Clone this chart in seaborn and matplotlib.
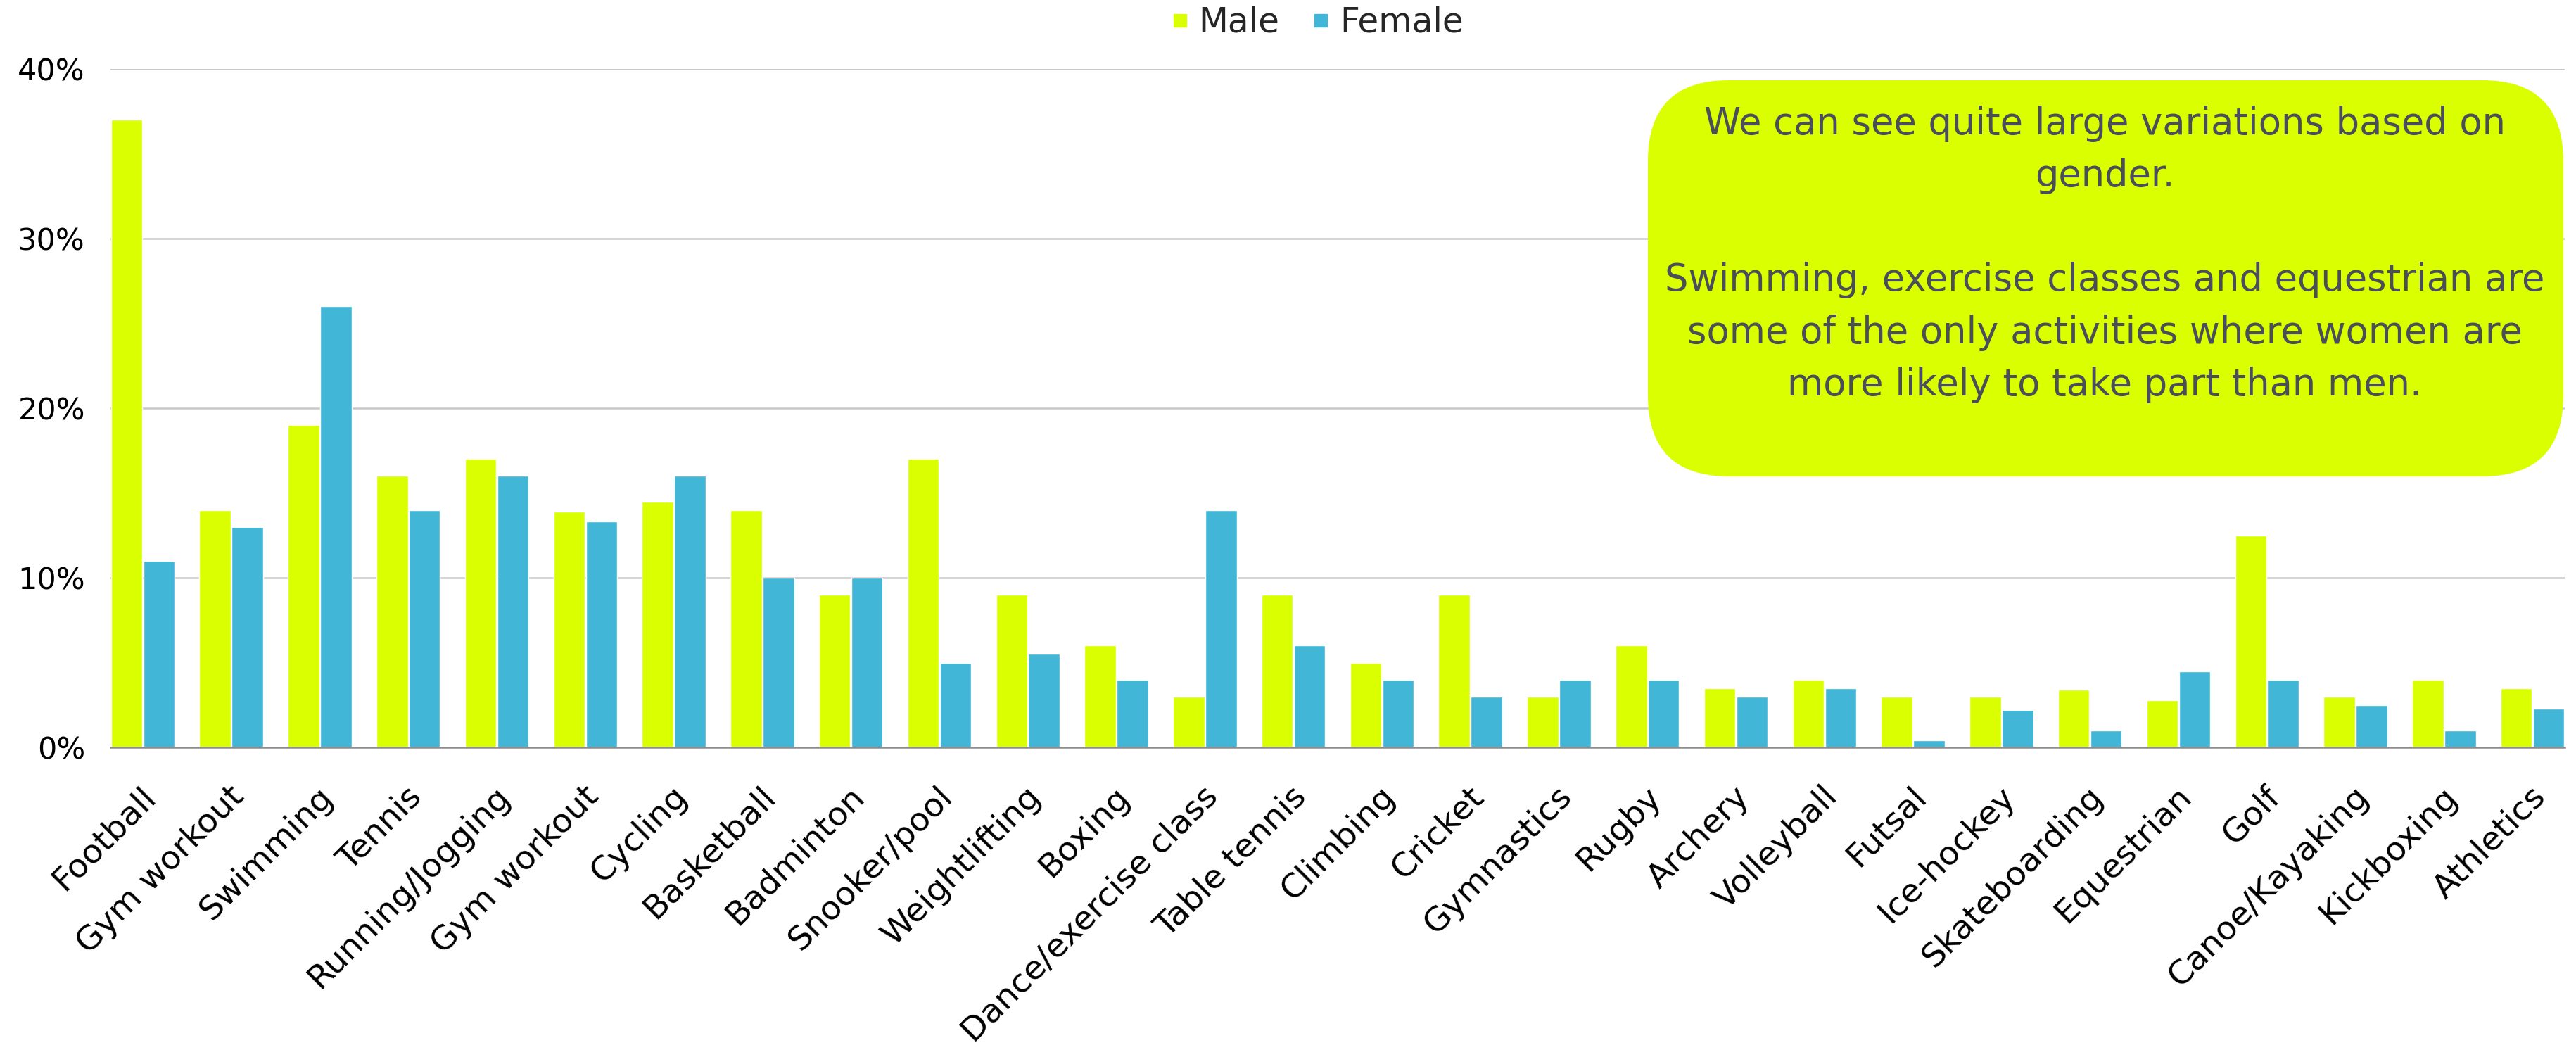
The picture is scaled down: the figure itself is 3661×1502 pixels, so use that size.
import matplotlib
matplotlib.use("Agg")
import matplotlib.pyplot as plt
import matplotlib.transforms as mtransforms
from matplotlib.patches import FancyBboxPatch
from matplotlib.lines import Line2D
from matplotlib.ticker import FuncFormatter
import seaborn as sns
import pandas as pd

# Participation by activity and gender (%)
activities = [
    "Football", "Gym workout", "Swimming", "Tennis", "Running/Jogging",
    "Gym workout", "Cycling", "Basketball", "Badminton", "Snooker/pool",
    "Weightlifting", "Boxing", "Dance/exercise class", "Table tennis",
    "Climbing", "Cricket", "Gymnastics", "Rugby", "Archery", "Volleyball",
    "Futsal", "Ice-hockey", "Skateboarding", "Equestrian", "Golf",
    "Canoe/Kayaking", "Kickboxing", "Athletics",
]
male = [37, 14, 19, 16, 17, 13.9, 14.5, 14, 9, 17, 9, 6, 3, 9, 5, 9, 3, 6,
        3.5, 4, 3, 3, 3.4, 2.8, 12.5, 3, 4, 3.5]
female = [11, 13, 26, 14, 16, 13.3, 16, 10, 10, 5, 5.5, 4, 14, 6, 4, 3, 4, 4,
          3, 3.5, 0.4, 2.2, 1, 4.5, 4, 2.5, 1, 2.3]
y_ticks = [0, 10, 20, 30, 40]
note = ("We can see quite large variations based on\ngender.\n\n"
        "Swimming, exercise classes and equestrian are\n"
        "some of the only activities where women are\n"
        "more likely to take part than men.")

MALE_C = "#DAFF00"
FEMALE_C = "#41B6D6"

sns.set_theme(style="white")
plt.rcParams["font.family"] = ["DejaVu Sans"]

n = len(activities)
df = pd.DataFrame({
    "pos": list(range(n)) * 2,
    "gender": ["Male"] * n + ["Female"] * n,
    "value": male + female,
})

W, H, DPI = 3661, 1502, 100
fig = plt.figure(figsize=(W / DPI, H / DPI), dpi=DPI)
ax = fig.add_axes([157 / W, 1 - 1062 / H, (3645 - 157) / W, (1062 - 98) / H])

sns.barplot(data=df, x="pos", y="value", hue="gender", order=list(range(n)),
            hue_order=["Male", "Female"],
            palette={"Male": MALE_C, "Female": FEMALE_C},
            width=0.73, gap=0.03, saturation=1, legend=False, ax=ax, zorder=3)

ax.set_xlim(-0.365, n - 1 + 0.365)
ax.set_ylim(0, 40)
ax.set_yticks(y_ticks)
ax.yaxis.set_major_formatter(FuncFormatter(lambda v, _: f"{v:.0f}%"))
ax.grid(axis="y", color="#C8C8C8", linewidth=1.8, zorder=0)
ax.set_axisbelow(True)
for side in ["left", "right", "top"]:
    ax.spines[side].set_visible(False)
ax.spines["bottom"].set_color("#8C8C8C")
ax.spines["bottom"].set_linewidth(1.8)
ax.spines["bottom"].set_zorder(4)
ax.set_xlabel("")
ax.set_ylabel("")

ax.tick_params(axis="y", length=0, pad=26, labelsize=31, labelcolor="black")
ax.tick_params(axis="x", length=0, pad=34, labelsize=34, labelcolor="black")
ax.set_xticks(range(n))
ax.set_xticklabels(activities, rotation=45, ha="right", va="top",
                   rotation_mode="anchor")
shift = mtransforms.ScaledTranslation(-4 / DPI, 0, fig.dpi_scale_trans)
for lab in ax.get_xticklabels():
    lab.set_transform(lab.get_transform() + shift)

# Legend along the top
handles = [
    Line2D([], [], marker="s", linestyle="none", markersize=13,
           markerfacecolor=MALE_C, markeredgecolor=MALE_C, label="Male"),
    Line2D([], [], marker="s", linestyle="none", markersize=13,
           markerfacecolor=FEMALE_C, markeredgecolor=FEMALE_C, label="Female"),
]
fig.legend(handles=handles, loc="center", bbox_to_anchor=(1871 / W, 1 - 32 / H),
           ncol=2, frameon=False, fontsize=35, handletextpad=0.25,
           columnspacing=0.9, handlelength=0.6, borderpad=0, borderaxespad=0)

# Rounded call-out box with commentary
box = FancyBboxPatch((2342, H - 677), 1301, 563,
                     boxstyle="round,pad=0,rounding_size=115",
                     transform=mtransforms.IdentityTransform(),
                     facecolor=MALE_C, edgecolor="none", zorder=5)
fig.patches.append(box)
fig.text(2991 / W, 1 - 150 / H, note, ha="center", va="top",
         multialignment="center", fontsize=38, color="#4A4E5A",
         linespacing=1.54, zorder=6)

fig.savefig("out.png", dpi=DPI)
